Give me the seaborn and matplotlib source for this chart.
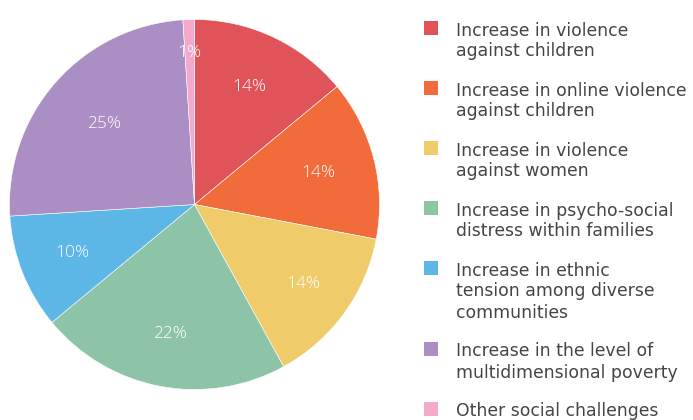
import matplotlib
matplotlib.use("Agg")
import numpy as np
import matplotlib.pyplot as plt
from matplotlib.patches import Rectangle
import seaborn as sns

categories = [
    "Increase in violence\nagainst children",
    "Increase in online violence\nagainst children",
    "Increase in violence\nagainst women",
    "Increase in psycho-social\ndistress within families",
    "Increase in ethnic\ntension among diverse\ncommunities",
    "Increase in the level of\nmultidimensional poverty",
    "Other social challenges",
]
shares = [14, 14, 14, 22, 10, 25, 1]
colors = ["#E05359", "#F26B3B", "#F0CB6A", "#8DC4A8", "#5DB7E6", "#AB8FC4", "#F4A9CB"]
# radial position of each percentage label, as a fraction of the radius
label_radius = [0.70, 0.69, 0.73, 0.71, 0.71, 0.655, 0.82]

sns.set_theme(style="white")
plt.rcParams["font.family"] = ["Open Sans", "DejaVu Sans"]

W, H = 693, 420
fig = plt.figure(figsize=(W / 100, H / 100), dpi=100)

# pie axes: centre (194.5, 204.5) px, radius 185 px
cx, cy, r = 194.5, 204.5, 185
ax = fig.add_axes([(cx - r) / W, (H - cy - r) / H, 2 * r / W, 2 * r / H])
palette = sns.color_palette(colors)
wedges, _ = ax.pie(
    shares,
    colors=palette,
    startangle=90,
    counterclock=False,
    radius=1,
    wedgeprops=dict(edgecolor="white", linewidth=0.4),
)
for w, v, lr in zip(wedges, shares, label_radius):
    mid = np.deg2rad((w.theta1 + w.theta2) / 2)
    ax.text(lr * np.cos(mid), lr * np.sin(mid), f"{v}%", color="white",
            fontsize=12.5, fontweight="light", ha="center", va="center")
ax.set_xlim(-1, 1)
ax.set_ylim(-1, 1)
ax.set_aspect("equal")
ax.axis("off")

# legend: colour square beside each wrapped label
sq = 14
x_sq, x_txt = 424, 456
y = 21
line_h = 21
gap = 18
for lab, col in zip(categories, palette):
    lines = lab.split("\n")
    fig.patches.append(Rectangle((x_sq / W, (H - y - sq) / H), sq / W, sq / H,
                                 transform=fig.transFigure, facecolor=col,
                                 edgecolor="none"))
    for i, line in enumerate(lines):
        fig.text(x_txt / W, (H - y - 14.5 - i * line_h) / H, line, fontsize=12.4,
                 family=["DejaVu Sans"], color="#454545",
                 ha="left", va="baseline")
    y += len(lines) * line_h + gap

fig.savefig("out.png", dpi=100, facecolor="white")
